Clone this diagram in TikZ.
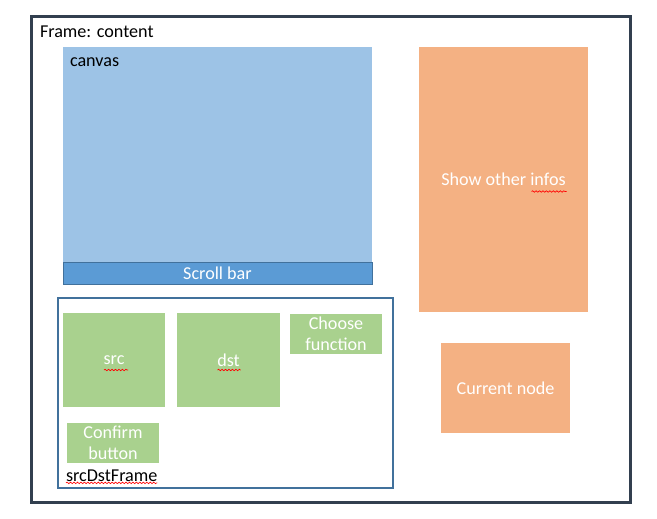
\documentclass[tikz,border=0pt]{standalone}
\usepackage{fontspec}
\setmainfont{Carlito}
\usetikzlibrary{positioning,calc,decorations.pathmorphing}
\definecolor{framecol}{HTML}{323F4F}
\definecolor{canvasblue}{HTML}{9DC3E6}
\definecolor{barblue}{HTML}{5B9BD5}
\definecolor{edgeblue}{HTML}{41719C}
\definecolor{btngreen}{HTML}{A9D18E}
\definecolor{infoorange}{HTML}{F4B183}
\tikzset{
x=0.75pt, y=-0.75pt, % one unit is one pixel of the mock-up
every node/.style={font=\fontsize{13.6}{15.8}\selectfont, outer sep=0pt},
box/.style={inner sep=0pt, align=center, text=white}, % coloured panel with white text
greenbox/.style={box, fill=btngreen},
orangebox/.style={box, fill=infoorange},
plain/.style={inner sep=0pt, anchor=west, text=black}, % black caption
spell/.style={red, line width=0.5pt, decorate,
  decoration={snake, segment length=2.6pt, amplitude=0.55pt}},
}

\begin{document}
\begin{tikzpicture}
   \useasboundingbox (0,0) rectangle (657,518);
   % outer frame
   \node[draw=framecol, line width=2.25pt, minimum width=448.9pt, minimum height=364.5pt] (content) at (330.75,259.5) {};
   \node[plain] (contentlbl) at (40,32) {Frame: content};
   % canvas with its scroll bar
   \node[box, fill=canvasblue, minimum width=231.75pt, minimum height=161.25pt] (canvas) at (217.5,154.5) {};
   \node[plain] (canvaslbl) at (70,62) {canvas};
   \node[box, fill=barblue, draw=edgeblue, line width=0.75pt, minimum width=231.75pt, minimum height=16.5pt, below=0pt of canvas] (scrollbar) {Scroll bar};
   % src / dst frame
   \node[draw=edgeblue, line width=1.5pt, minimum width=250.9pt, minimum height=142.5pt] (srcdst) at (225.25,393) {};
   \node[greenbox, minimum width=76.5pt, minimum height=70.5pt] (src) at (114,360) {src};
   \node[greenbox, minimum width=77.25pt, minimum height=70.5pt] (dst) at (228.5,360) {dst};
   \node[greenbox, minimum width=69pt, minimum height=30pt] (choose) at (336,334) {Choose\\function};
   \node[greenbox, minimum width=69pt, minimum height=30pt] (confirm) at (113,443) {Confirm\\button};
   \node[plain] (srcdstlbl) at (66,476) {srcDstFrame};
   % right column
   \node[orangebox, minimum width=126.75pt, minimum height=198.75pt] (infos) at (503.5,179.5) {Show other infos};
   \node[orangebox, minimum width=96.75pt, minimum height=67.5pt] (current) at (505.5,388) {Current node};
   % spell-check marks
   \draw[spell] ($(infos.center)+(28,12)$) -- ($(infos.center)+(63,12)$);
   \draw[spell] ($(src.center)+(-10,10)$) -- ($(src.center)+(14,10)$);
   \draw[spell] ($(dst.center)+(-11,10)$) -- ($(dst.center)+(12,10)$);
   \draw[spell] ($(srcdstlbl.south west)+(0,1)$) -- ($(srcdstlbl.south east)+(0,1)$);
\end{tikzpicture}
\end{document}
